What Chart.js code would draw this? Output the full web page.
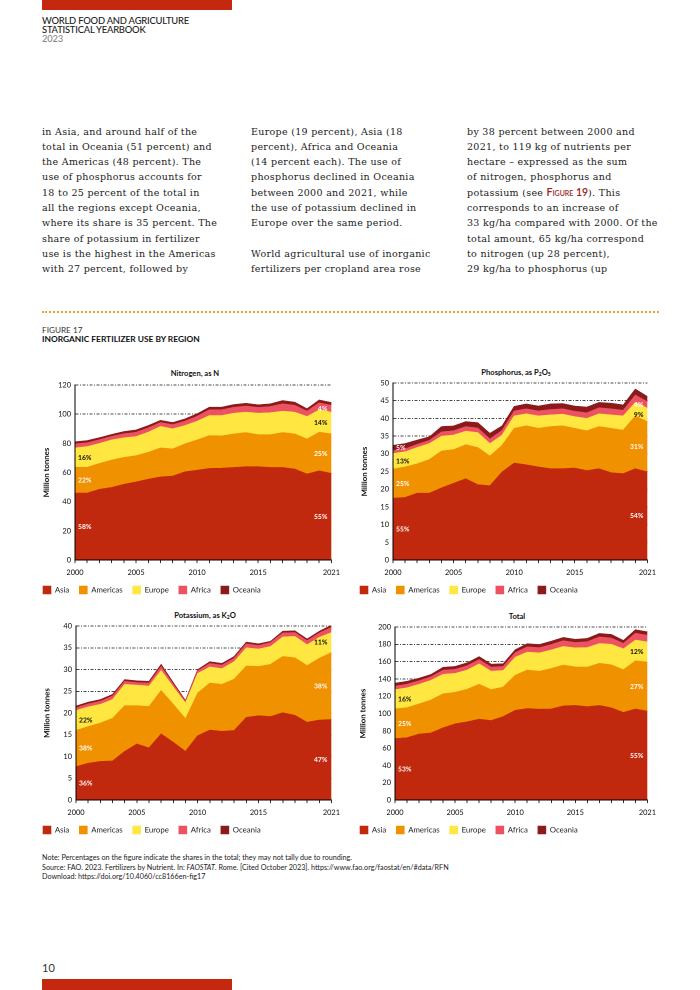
<!DOCTYPE html>
<html>
<head>
<meta charset="utf-8">
<script src="https://cdn.jsdelivr.net/npm/chart.js@4.4.0/dist/chart.umd.min.js"></script>
<style>
  html, body { margin: 0; padding: 0; }
  body { width: 700px; height: 990px; position: relative; background: #fff; overflow: hidden; font-family: Lato, 'Noto Sans', sans-serif; color: #222; }
  .abs { position: absolute; }
  .bar { background: #C4290F; }
  .hdr { left: 42px; top: 16px; font-size: 9.4px; line-height: 9.2px; font-weight: 500; color: #222; letter-spacing: -0.2px; }
  .hdr .yr { color: #8a8a8a; }
  .col { top: 123.5px; font-family: 'DejaVu Serif', serif; font-size: 9.5px; letter-spacing: 0.3px; line-height: 15.3px; white-space: pre; color: #222; }
  .sc { color: #9B1B1E; font-family: Lato, sans-serif; font-variant: small-caps; font-size: 10.5px; font-weight: 600; letter-spacing: 0; }
  .dots { left: 42px; top: 311px; width: 617px; height: 0; border-top: 2px dotted #F2A12A; }
  .figno { left: 42px; top: 325px; font-size: 8.2px; color: #333; }
  .figtitle { left: 42px; top: 334px; font-size: 8.4px; font-weight: 700; color: #111; }
  .ctitle { font-size: 7.6px; font-weight: 700; color: #111; transform: translateX(-50%); white-space: nowrap; }
  .ctitle sub { font-size: 5px; vertical-align: -1px; }
  canvas.cv { position: absolute; }
  .note { left: 42px; font-size: 7.2px; line-height: 9.6px; color: #222; white-space: nowrap; }
  .pno { left: 42px; top: 961px; font-size: 11px; color: #333; }
</style>
</head>
<body>
<div class="abs bar" style="left:42px;top:0;width:190px;height:10px;"></div>
<div class="abs hdr">WORLD FOOD AND AGRICULTURE<br>STATISTICAL YEARBOOK<br><span class="yr">2023</span></div>

<div class="abs col" style="left:42px;">in Asia, and around half of the
total in Oceania (51 percent) and
the Americas (48 percent). The
use of phosphorus accounts for
18 to 25 percent of the total in
all the regions except Oceania,
where its share is 35 percent. The
share of potassium in fertilizer
use is the highest in the Americas
with 27 percent, followed by</div>
<div class="abs col" style="left:251px;">Europe (19 percent), Asia (18
percent), Africa and Oceania
(14 percent each). The use of
phosphorus declined in Oceania
between 2000 and 2021, while
the use of potassium declined in
Europe over the same period.

World agricultural use of inorganic
fertilizers per cropland area rose</div>
<div class="abs col" style="left:467px;">by 38 percent between 2000 and
2021, to 119 kg of nutrients per
hectare – expressed as the sum
of nitrogen, phosphorus and
potassium (see <span class="sc">Figure 19</span>). This
corresponds to an increase of
33 kg/ha compared with 2000. Of the
total amount, 65 kg/ha correspond
to nitrogen (up 28 percent),
29 kg/ha to phosphorus (up</div>

<div class="abs dots"></div>
<div class="abs figno">FIGURE 17</div>
<div class="abs figtitle">INORGANIC FERTILIZER USE BY REGION</div>

<div class="abs ctitle" style="left:195px;top:368px;">Nitrogen, as N</div>
<div class="abs ctitle" style="left:516px;top:367px;">Phosphorus, as P<sub>2</sub>O<sub>5</sub></div>
<div class="abs ctitle" style="left:205px;top:610px;">Potassium, as K<sub>2</sub>O</div>
<div class="abs ctitle" style="left:517px;top:611px;">Total</div>

<canvas id="cN" class="cv" width="312" height="229" style="left:33px;top:375px;"></canvas>
<canvas id="cP" class="cv" width="311" height="231" style="left:350px;top:373px;"></canvas>
<canvas id="cK" class="cv" width="312" height="228" style="left:33px;top:616px;"></canvas>
<canvas id="cT" class="cv" width="311" height="227" style="left:350px;top:617px;"></canvas>

<div class="abs note" style="top:853px;">Note: Percentages on the figure indicate the shares in the total; they may not tally due to rounding.</div>
<div class="abs note" style="top:862.5px;">Source: FAO. 2023. Fertilizers by Nutrient. In: <i>FAOSTAT</i>. Rome. [Cited October 2023]. https://www.fao.org/faostat/en/#data/RFN</div>
<div class="abs note" style="top:872px;">Download: https://doi.org/10.4060/cc8166en-fig17</div>

<div class="abs pno">10</div>
<div class="abs bar" style="left:42px;top:979px;width:190px;height:11px;"></div>

<script>
// ---------- DATA ----------
const years = ['2000','2001','2002','2003','2004','2005','2006','2007','2008','2009','2010',
               '2011','2012','2013','2014','2015','2016','2017','2018','2019','2020','2021'];
const xTickLabels = ['2000','2005','2010','2015','2021'];
const regions = ['Asia','Americas','Europe','Africa','Oceania'];

// Nitrogen, as N (million tonnes)
const nitrogenAsia     = [46.0,46.0,48.5,49.8,52.0,53.6,55.5,57.0,57.6,60.5,61.6,62.8,63.0,63.5,64.0,64.0,63.5,63.5,62.4,59.0,61.2,59.4];
const nitrogenAmericas = [17.6,17.6,17.8,18.8,18.4,18.0,18.4,19.9,18.6,19.1,20.8,22.6,22.1,23.0,23.4,22.0,22.5,23.9,24.1,24.0,26.5,27.1];
const nitrogenEurope   = [13.3,14.2,13.7,13.8,13.4,13.1,13.8,14.7,13.8,12.6,12.8,13.7,14.0,14.2,14.0,14.7,15.0,14.7,14.9,15.4,15.3,14.9];
const nitrogenAfrica   = [2.7,2.6,2.5,2.4,2.8,2.9,2.9,2.7,2.8,3.0,3.4,3.9,3.9,4.0,4.2,3.9,4.2,5.0,4.7,3.7,4.8,4.6];
const nitrogenOceania  = [1.5,1.5,1.4,1.3,1.5,1.6,1.6,1.5,1.5,1.6,1.7,1.8,1.8,1.9,1.9,1.8,1.9,2.2,2.1,1.6,2.0,2.0];

// Phosphorus, as P2O5
const phosphorusAsia     = [17.5,17.7,18.9,18.9,20.4,21.7,23.0,21.3,21.0,24.9,27.4,26.9,26.3,25.8,25.8,26.0,25.3,25.8,24.7,24.4,25.8,24.9];
const phosphorusAmericas = [8.2,8.6,8.3,9.5,10.4,9.5,9.6,10.5,8.4,7.5,9.8,11.0,10.9,11.9,12.1,11.2,11.2,11.9,12.5,12.3,14.9,14.2];
const phosphorusEurope   = [4.4,4.3,4.6,4.5,4.2,4.1,3.8,4.2,3.5,2.9,3.5,3.4,3.5,3.3,3.3,3.3,3.5,3.6,3.8,4.0,3.8,3.8];
const phosphorusAfrica   = [0.8,0.8,0.9,0.9,1.2,1.2,1.3,1.3,1.3,1.3,1.4,1.4,1.4,1.5,1.5,1.5,1.6,1.7,1.7,1.6,2.1,1.8];
const phosphorusOceania  = [1.5,1.5,1.2,1.0,1.5,1.4,1.4,1.5,1.6,1.3,1.3,1.4,1.4,1.6,1.5,1.5,1.6,1.5,1.6,1.5,1.7,1.5];

// Potassium, as K2O
const potassiumAsia     = [7.7,8.5,8.9,9.0,11.2,12.9,12.0,15.2,13.3,11.2,14.8,16.1,15.8,16.0,19.0,19.4,19.2,20.1,19.5,17.9,18.4,18.5];
const potassiumAmericas = [8.3,8.4,8.8,9.8,10.5,8.8,9.5,10.0,8.7,7.5,9.8,10.8,10.8,11.8,11.8,11.3,12.0,12.9,13.2,13.0,14.2,15.4];
const potassiumEurope   = [4.6,4.5,4.3,4.3,4.9,4.7,4.7,4.6,4.0,3.6,4.5,3.7,3.6,4.0,4.2,4.0,4.1,4.5,4.9,4.8,4.8,4.6];
const potassiumAfrica   = [0.6,0.7,0.7,0.8,0.7,0.6,0.7,0.9,0.6,0.4,0.6,0.8,0.8,0.8,0.9,0.8,0.9,0.9,0.9,0.9,1.0,1.2];
const potassiumOceania  = [0.4,0.4,0.4,0.4,0.4,0.4,0.4,0.5,0.4,0.2,0.3,0.4,0.4,0.4,0.4,0.4,0.3,0.4,0.4,0.4,0.4,0.5];

// Total
const totalAsia     = [71.2,72.2,76.3,77.7,83.6,88.2,90.5,93.5,91.9,96.6,103.8,105.8,105.1,105.3,108.8,109.4,108.0,109.4,106.6,101.3,105.4,102.8];
const totalAmericas = [34.1,34.6,34.9,38.1,39.3,36.3,37.5,40.4,35.7,34.1,40.4,44.4,43.8,46.7,47.3,44.5,45.7,48.7,49.8,49.3,55.6,56.7];
const totalEurope   = [22.3,23.0,22.6,22.6,22.5,21.9,22.3,23.5,21.3,19.1,20.8,20.8,21.1,21.5,21.5,22.0,22.6,22.8,23.6,24.2,23.9,23.3];
const totalAfrica   = [4.1,4.1,4.1,4.1,4.7,4.7,4.9,4.9,4.7,4.7,5.4,6.1,6.1,6.3,6.6,6.2,6.7,7.6,7.3,6.2,7.9,7.6];
const totalOceania  = [3.4,3.4,3.0,2.7,3.4,3.4,3.4,3.5,3.5,3.1,3.3,3.6,3.6,3.9,3.8,3.7,3.8,4.1,4.1,3.5,4.1,4.0];

// Y-axis tick values
const nitrogenTicks   = [0,20,40,60,80,100,120];
const phosphorusTicks = [0,5,10,15,20,25,30,35,40,45,50];
const potassiumTicks  = [0,5,10,15,20,25,30,35,40];
const totalTicks      = [0,20,40,60,80,100,120,140,160,180,200];

// Share labels (by region order) at 2000 and 2021
const nitrogenShare2000   = ['58%','22%','16%','',''];
const nitrogenShare2021   = ['55%','25%','14%','4%',''];
const phosphorusShare2000 = ['55%','25%','13%','','5%'];
const phosphorusShare2021 = ['54%','31%','9%','4%',''];
const potassiumShare2000  = ['36%','38%','22%','',''];
const potassiumShare2021  = ['47%','38%','11%','',''];
const totalShare2000      = ['53%','25%','16%','',''];
const totalShare2021      = ['55%','27%','12%','',''];

// ---------- STYLE ----------
const regionColors = ['#C1290E','#F09100','#FFE640','#EC5262','#8B1B1B'];
const shareTextColors = ['#ffffff','#ffffff','#111111','#ffffff','#ffffff'];
const FONT = 'Lato, "Noto Sans", sans-serif';
Chart.defaults.font.family = FONT;
Chart.defaults.color = '#111';

const shareLabelsPlugin = {
  id: 'shareLabels',
  afterDatasetsDraw(chart, args, opts) {
    const { ctx } = chart;
    const xs = chart.scales.x, ys = chart.scales.y;
    const last = chart.data.labels.length - 1;
    ctx.save();
    ctx.font = 'bold 6.8px ' + FONT;
    ctx.textBaseline = 'middle';
    [[0, opts.start, 'left', 3], [last, opts.end, 'right', -4]].forEach(([idx, texts, align, dx]) => {
      let base = 0;
      chart.data.datasets.forEach((ds, i) => {
        const v = ds.data[idx];
        if (texts[i]) {
          ctx.textAlign = align;
          ctx.fillStyle = shareTextColors[i];
          ctx.fillText(texts[i], xs.getPixelForValue(idx) + dx, ys.getPixelForValue(base + v / 2));
        }
        base += v;
      });
    });
    ctx.restore();
  }
};

function buildDatasets(series) {
  return regions.map((r, i) => ({
    label: r,
    data: series[i],
    backgroundColor: regionColors[i],
    borderColor: regionColors[i],
    borderWidth: 0.6,
    pointRadius: 0,
    pointHoverRadius: 0,
    tension: 0,
    fill: i === 0 ? 'origin' : '-1'
  }));
}

function makeChart(id, series, ticks, share2000, share2021, geo) {
  return new Chart(document.getElementById(id), {
    type: 'line',
    data: { labels: years, datasets: buildDatasets(series) },
    options: {
      responsive: false,
      animation: false,
      devicePixelRatio: 2,
      events: [],
      layout: { padding: { top: geo.padTop, right: 13, bottom: 0, left: 0 } },
      plugins: {
        title: { display: false },
        tooltip: { enabled: false },
        legend: {
          position: 'bottom', align: 'start',
          labels: { boxWidth: 8, boxHeight: 8, padding: 10, color: '#222', font: { size: 7.8 } }
        },
        shareLabels: { start: share2000, end: share2021 }
      },
      scales: {
        x: {
          type: 'category', offset: false,
          afterFit(s) { s.height = s.height - 6; },
          grid: { display: true, drawOnChartArea: false, drawTicks: true, tickLength: 3, color: '#000', lineWidth: 0.8 },
          border: { display: true, color: '#000', width: 1, z: 1 },
          ticks: {
            autoSkip: false, maxRotation: 0, minRotation: 0, padding: 5, color: '#111', font: { size: 7.4 },
            callback(v) { const l = this.getLabelForValue(v); return xTickLabels.includes(l) ? l : ''; }
          }
        },
        y: {
          stacked: true,
          min: ticks[0], max: ticks[ticks.length - 1],
          afterBuildTicks(s) { s.ticks = ticks.map(v => ({ value: v })); },
          afterFit(s) { s.width = geo.yWidth; },
          grid: { color: '#111', lineWidth: 0.7, drawTicks: false },
          border: { display: true, color: '#000', width: 1, z: 1, dash: [3, 1.5, 1, 1.5] },
          ticks: { padding: 4, color: '#111', font: { size: 7.4 } },
          title: { display: true, text: 'Million tonnes', color: '#111', font: { size: 7.8, weight: 'bold' }, padding: { top: geo.titlePad, bottom: 0 } }
        }
      }
    },
    plugins: [shareLabelsPlugin]
  });
}

makeChart('cN', [nitrogenAsia, nitrogenAmericas, nitrogenEurope, nitrogenAfrica, nitrogenOceania],
  nitrogenTicks, nitrogenShare2000, nitrogenShare2021, { padTop: 10, yWidth: 42, titlePad: 9 });
makeChart('cP', [phosphorusAsia, phosphorusAmericas, phosphorusEurope, phosphorusAfrica, phosphorusOceania],
  phosphorusTicks, phosphorusShare2000, phosphorusShare2021, { padTop: 10, yWidth: 43, titlePad: 10 });
makeChart('cK', [potassiumAsia, potassiumAmericas, potassiumEurope, potassiumAfrica, potassiumOceania],
  potassiumTicks, potassiumShare2000, potassiumShare2021, { padTop: 10, yWidth: 43, titlePad: 9.5 });
makeChart('cT', [totalAsia, totalAmericas, totalEurope, totalAfrica, totalOceania],
  totalTicks, totalShare2000, totalShare2021, { padTop: 10, yWidth: 45, titlePad: 8.5 });
</script>
</body>
</html>
